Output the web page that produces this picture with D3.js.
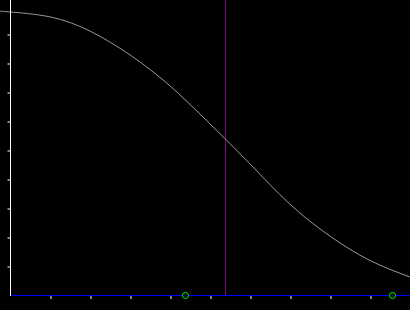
<!DOCTYPE html>
<html>
<head>
<meta charset="utf-8">
<script src="https://cdn.jsdelivr.net/npm/d3@7"></script>
<style>
  html, body { margin: 0; padding: 0; background: #000; }
  svg { display: block; }
</style>
</head>
<body>
<script>
// curve samples
var curveX = [-0.25, 0, 1, 2, 3, 4, 5, 6, 7, 8, 9, 10];
var curveY = [0.979, 0.976, 0.959, 0.910, 0.828, 0.721, 0.590, 0.452, 0.313, 0.203, 0.119, 0.062];

var xTicks = [1, 2, 3, 4, 5, 6, 7, 8, 9];
var yTicks = [0.1, 0.2, 0.3, 0.4, 0.5, 0.6, 0.7, 0.8, 0.9];

var markerX = 5.375;          // vertical purple line
var rootX = [4.375, 9.55];    // green circles on the x axis

var width = 410, height = 310;

var x = d3.scaleLinear().domain([-0.25, 10]).range([0, 410]);
var y = d3.scaleLinear().domain([0, 1]).range([295, 5]);

var svg = d3.select("body").append("svg")
    .attr("width", width)
    .attr("height", height)
    .style("background", "#000");

// marker line
svg.append("line")
    .attr("x1", x(markerX) + 0.5).attr("x2", x(markerX) + 0.5)
    .attr("y1", 0).attr("y2", y(0))
    .attr("stroke", "#800080")
    .attr("stroke-width", 1);

// curve
var line = d3.line()
    .x(function(d) { return x(d[0]); })
    .y(function(d) { return y(d[1]); })
    .curve(d3.curveNatural);

svg.append("path")
    .datum(d3.zip(curveX, curveY))
    .attr("d", line)
    .attr("fill", "none")
    .attr("stroke", "#999")
    .attr("stroke-width", 1);

// left axis
var yAxis = d3.axisLeft(y).tickValues(yTicks).tickSize(3).tickFormat("");
var gy = svg.append("g")
    .attr("transform", "translate(" + (x(0) + 0.5) + ",0.5)")
    .call(yAxis);
gy.select(".domain").remove();
gy.selectAll(".tick line").attr("stroke", "#fff");

svg.append("line")
    .attr("x1", x(0) + 0.5).attr("x2", x(0) + 0.5)
    .attr("y1", 0).attr("y2", y(0) + 1)
    .attr("stroke", "#fff");

// bottom axis
var xAxis = d3.axisBottom(x).tickValues(xTicks).tickSize(3).tickFormat("");
var gx = svg.append("g")
    .attr("transform", "translate(0.5," + (y(0) + 1) + ")")
    .call(xAxis);
gx.select(".domain").remove();
gx.selectAll(".tick line").attr("stroke", "#fff");

svg.append("line")
    .attr("x1", x(0) + 1).attr("x2", width)
    .attr("y1", y(0) + 0.5).attr("y2", y(0) + 0.5)
    .attr("stroke", "#0000ff");

// roots
var roots = svg.selectAll(".root")
    .data(rootX)
    .enter().append("g")
    .attr("class", "root");

roots.append("circle")
    .attr("cx", function(d) { return x(d) + 0.5; })
    .attr("cy", y(0) + 0.5)
    .attr("r", 3)
    .attr("fill", "#000")
    .attr("stroke", "#00ff00")
    .attr("stroke-width", 1);

roots.append("rect")
    .attr("x", function(d) { return Math.round(x(d)); })
    .attr("y", y(0))
    .attr("width", 1)
    .attr("height", 1)
    .attr("fill", "#0000ff");
</script>
</body>
</html>
